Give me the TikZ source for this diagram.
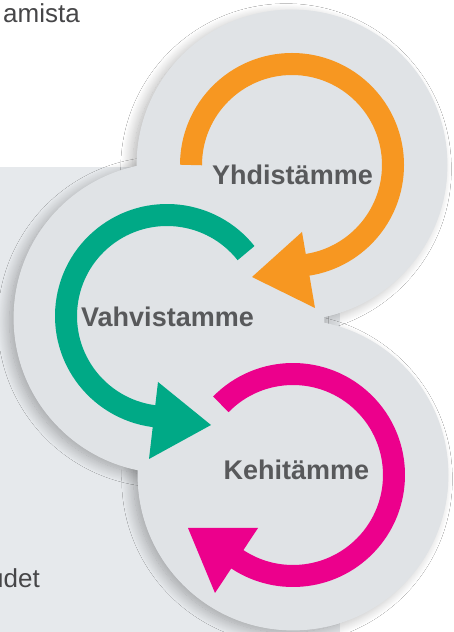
\documentclass[tikz,border=0pt]{standalone}
\usepackage{fontspec}
\setmainfont{Liberation Sans}
\usetikzlibrary{shadows.blur}
\definecolor{circ}{RGB}{224,227,230}
\definecolor{panel}{RGB}{230,233,236}
\definecolor{txt}{RGB}{88,89,91}
\definecolor{sidetxt}{RGB}{70,70,72}
\definecolor{org}{RGB}{247,151,33}
\definecolor{grn}{RGB}{0,169,134}
\definecolor{pnk}{RGB}{236,0,140}
\begin{document}
\begin{tikzpicture}[x=1pt,y=1pt,
  sh/.style={fill=circ, blur shadow={shadow xshift=-6pt, shadow yshift=-4pt, shadow scale=0.99, shadow blur radius=12pt, shadow blur steps=20, shadow opacity=32}},
  disc/.style={fill=circ},
  ring/.style={line width=22pt, line cap=butt},
  lbl/.style={font=\bfseries\fontsize{27}{30}\selectfont, text=txt, inner sep=0pt, anchor=base},
  side/.style={font=\fontsize{26}{30}\selectfont, text=sidetxt, inner sep=0pt, anchor=base east}]
\useasboundingbox (0,0) rectangle (453,632);
\fill[white] (0,0) rectangle (453,632);
\fill[panel] (0,0) rectangle (340,465);
% side texts
\node[side] (t1) at (80,609) {amista};
\node[side] (t2) at (40,44) {udet};
% circle centres
\coordinate (ct) at (292,467);
\coordinate (cm) at (169,314);
\coordinate (cb) at (293,157);
% shadows
\path[sh] (ct) circle[radius=155];
\path[sh] (cm) circle[radius=155];
\path[sh] (cb) circle[radius=155];
% discs
\fill[disc] (ct) circle[radius=155.4];
\fill[disc] (cm) circle[radius=155.4];
\fill[disc] (cb) circle[radius=155.4];
% arc centres
\coordinate (ao) at (292,467);
\coordinate (ag) at (167,316);
\coordinate (ap) at (293,157);
% orange
\draw[ring, org] (ao) ++(180:101) arc[start angle=180, end angle=-84, radius=101];
\fill[org] (252,355) -- (302,400) -- (315,324) -- cycle;
% green
\draw[ring, grn] (ag) ++(38.5:101) arc[start angle=38.5, end angle=265, radius=101];
\fill[grn] (211,207) -- (158,250) -- (149,173) -- cycle;
% pink
\draw[ring, pnk] (ap) ++(135.6:101) arc[start angle=135.6, end angle=-126, radius=101];
\fill[pnk] (188,104) -- (258,104) -- (215,39) -- cycle;
% labels
\node[lbl] (l1) at (292.5,447) {Yhdistämme};
\node[lbl] (l2) at (167.5,305) {Vahvistamme};
\node[lbl] (l3) at (296.5,152) {Kehitämme};
\end{tikzpicture}
\end{document}
